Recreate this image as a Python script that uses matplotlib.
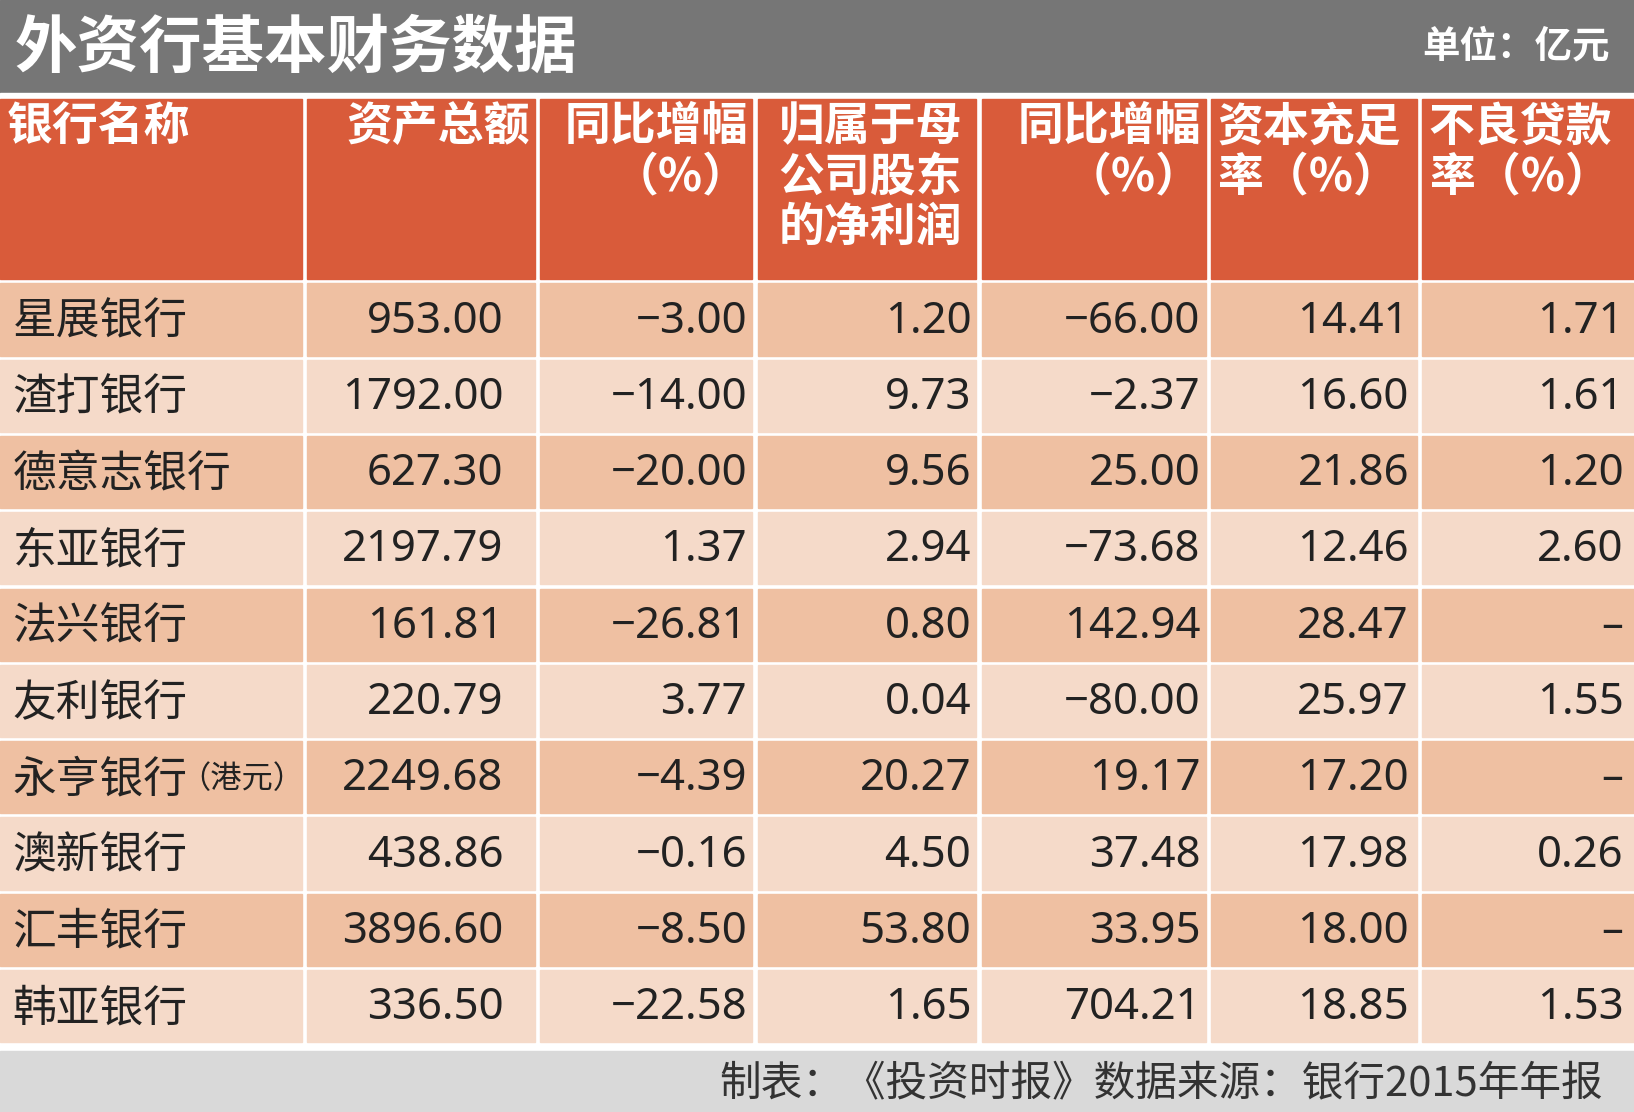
import matplotlib
matplotlib.use("Agg")
import matplotlib.pyplot as plt
from matplotlib.patches import Rectangle

plt.rcParams['font.family'] = ['Noto Sans CJK SC', 'DejaVu Sans']

title = "外资行基本财务数据"
unit = "单位：亿元"
footer = "制表：《投资时报》数据来源：银行2015年年报"
headers = ["银行名称", "资产总额", "同比增幅\n（%）", "归属于母\n公司股东\n的净利润", "同比增幅\n（%）", "资本充足\n率（%）", "不良贷款\n率（%）"]
banks = ["星展银行", "渣打银行", "德意志银行", "东亚银行", "法兴银行", "友利银行", "永亨银行", "澳新银行", "汇丰银行", "韩亚银行"]
assets = ["953.00", "1792.00", "627.30", "2197.79", "161.81", "220.79", "2249.68", "438.86", "3896.60", "336.50"]
asset_yoy = ["−3.00", "−14.00", "−20.00", "1.37", "−26.81", "3.77", "−4.39", "−0.16", "−8.50", "−22.58"]
profit = ["1.20", "9.73", "9.56", "2.94", "0.80", "0.04", "20.27", "4.50", "53.80", "1.65"]
profit_yoy = ["−66.00", "−2.37", "25.00", "−73.68", "142.94", "−80.00", "19.17", "37.48", "33.95", "704.21"]
car = ["14.41", "16.60", "21.86", "12.46", "28.47", "25.97", "17.20", "17.98", "18.00", "18.85"]
npl = ["1.71", "1.61", "1.20", "2.60", "–", "1.55", "–", "0.26", "–", "1.53"]

W, H = 1568, 1067
fig = plt.figure(figsize=(16.34, 11.12), dpi=100)
ax = fig.add_axes([0, 0, 1, 1])
ax.set_xlim(0, W); ax.set_ylim(H, 0); ax.axis('off')
s = 1634 / 1568 * 0.72  # px -> pt

ax.add_patch(Rectangle((0, 0), W, 89, color='#767676'))
ax.text(14, 46, title, color='white', fontsize=60*s, fontweight='bold', va='center')
ax.text(1545, 44, unit, color='white', fontsize=36*s, fontweight='bold', va='center', ha='right')

cols = [(0, 290), (295, 513), (518, 722), (727, 937), (942, 1157), (1162, 1360), (1365, 1568)]
ax.add_patch(Rectangle((0, 89), W, 1008-89, color='white'))
for i, (a, b) in enumerate(cols):
    ax.add_patch(Rectangle((a, 95), b-a, 268-95, color='#D95B3A'))
    t = headers[i]
    if i == 0 or i >= 5:
        ax.text(a+6, 100, t, color='white', fontsize=44*s, fontweight='bold', va='top', ha='left', linespacing=1.12)
    elif i == 3:
        ax.text(a+20, 100, t, color='white', fontsize=44*s, fontweight='bold', va='top', ha='left', linespacing=1.12)
    else:
        ax.text(b-4, 100, t, color='white', fontsize=44*s, fontweight='bold', va='top', ha='right', linespacing=1.12)

rights = [None, 483, 717, 932, 1152, 1352, 1558]
data = [assets, asset_yoy, profit, profit_yoy, car, npl]
y0, rh = 272, 73.2
for r in range(len(banks)):
    top = y0 + r*rh
    col = '#EFC0A2' if r % 2 == 0 else '#F5DAC9'
    for a, b in cols:
        ax.add_patch(Rectangle((a, top), b-a, rh-4, color=col))
    cy = top + rh/2
    ax.text(12, cy, banks[r], fontsize=42*s, va='center', color='#222222')
    if banks[r] == "永亨银行":
        ax.text(172, cy, "（港元）", fontsize=30*s, va='center', color='#222222')
    for j, arr in enumerate(data):
        ax.text(rights[j+1], cy, arr[r], fontsize=42*s, va='center', ha='right', color='#222222',
                family=['Noto Sans', 'DejaVu Sans'])

ax.add_patch(Rectangle((0, 1008), W, H-1008, color='#D9D9D9'))
ax.text(1538, 1040, footer, fontsize=40*s, va='center', ha='right', color='#333333')

fig.savefig("out.png", dpi=100)
